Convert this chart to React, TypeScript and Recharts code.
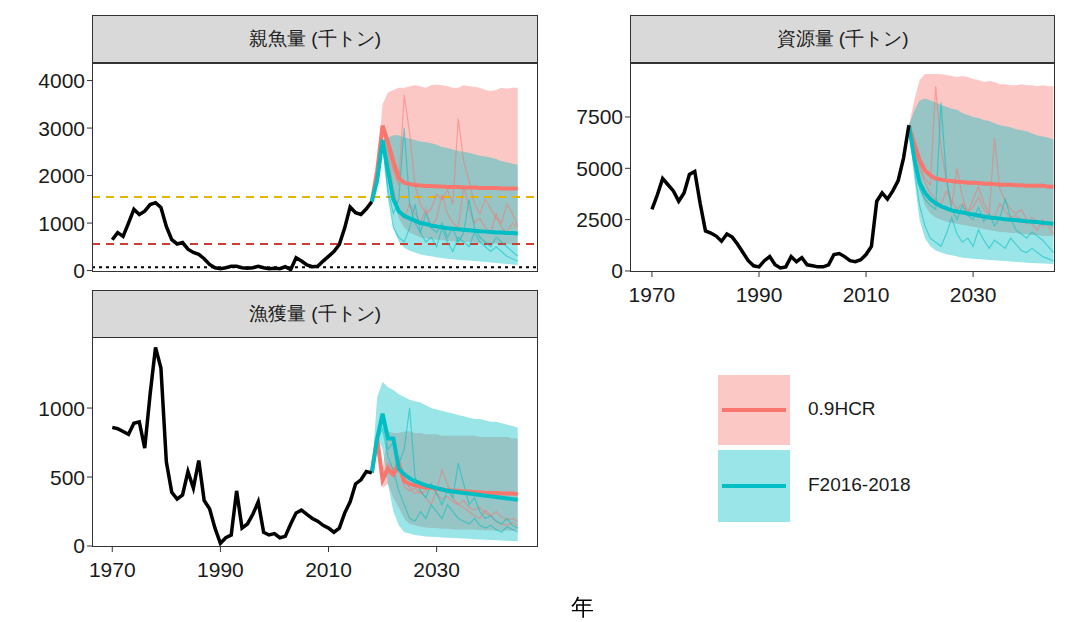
import { ComposedChart, Line, Area, XAxis, YAxis, ReferenceLine } from 'recharts';

const histYears = Array.from({ length: 49 }, (_, i) => 1970 + i);
const projYears = Array.from({ length: 28 }, (_, i) => 2018 + i);

// 親魚量
const ssbHist = [650, 800, 720, 1000, 1290, 1180, 1250, 1390, 1430, 1330, 930, 650, 560, 590, 450, 380, 340, 250, 130, 60, 40, 60, 90, 90, 60, 50, 60, 90, 60, 40, 50, 40, 80, 20, 270, 200, 120, 80, 90, 200, 300, 400, 550, 900, 1340, 1220, 1180, 1300, 1450];
const ssbTealMean = [1450, 1900, 2750, 2100, 1500, 1250, 1150, 1100, 1050, 1000, 980, 950, 930, 910, 890, 880, 870, 860, 850, 840, 830, 820, 810, 800, 800, 790, 790, 780];
const ssbRedMean = [1450, 2100, 3050, 2700, 2300, 1950, 1850, 1820, 1800, 1790, 1780, 1780, 1770, 1770, 1760, 1760, 1760, 1750, 1750, 1750, 1740, 1740, 1740, 1740, 1730, 1730, 1730, 1730];
const ssbRedHi = [1450, 2200, 3500, 3750, 3800, 3850, 3850, 3880, 3900, 3880, 3850, 3900, 3920, 3900, 3880, 3850, 3850, 3900, 3880, 3870, 3850, 3800, 3780, 3800, 3850, 3830, 3850, 3850];
const ssbRedLo = [1450, 2000, 2900, 2300, 1500, 1100, 900, 800, 750, 700, 680, 660, 650, 640, 630, 620, 610, 600, 600, 590, 580, 580, 570, 570, 560, 560, 550, 550];
const ssbTealHi = [1450, 2000, 2750, 2800, 2850, 2850, 2800, 2780, 2750, 2720, 2700, 2680, 2650, 2600, 2580, 2550, 2520, 2500, 2480, 2450, 2420, 2400, 2380, 2350, 2300, 2280, 2250, 2230];
const ssbTealLo = [1450, 1800, 2600, 1700, 900, 600, 480, 420, 380, 340, 320, 300, 280, 260, 250, 240, 230, 220, 210, 200, 190, 180, 170, 160, 150, 140, 130, 120];
const ssbRedThin1 = [1450, 2100, 3000, 2600, 2100, 1800, 3700, 2900, 1800, 1400, 1200, 1300, 1600, 1500, 1700, 1400, 3200, 2300, 1900, 1400, 1200, 1500, 1300, 1100, 1000, 1400, 1200, 950];
const ssbRedThin2 = [1450, 2050, 2950, 2500, 1700, 1300, 1100, 1400, 1200, 1000, 1300, 900, 1100, 1600, 1200, 1000, 900, 1800, 1300, 1000, 1100, 900, 800, 1200, 900, 800, 1000, 900];
const ssbTealThin1 = [1450, 1900, 2700, 1700, 1200, 1500, 3000, 1400, 1000, 800, 1200, 900, 800, 1000, 700, 900, 600, 800, 1500, 900, 700, 600, 500, 700, 600, 500, 400, 300];
const ssbTealThin2 = [1450, 1850, 2650, 1600, 900, 700, 600, 900, 1400, 800, 600, 700, 500, 900, 600, 400, 700, 600, 500, 800, 600, 500, 400, 500, 400, 300, 250, 200];

// 資源量
const bioHist = [3000, 3700, 4500, 4200, 3900, 3400, 3800, 4700, 4850, 3300, 1950, 1850, 1700, 1450, 1800, 1650, 1300, 900, 500, 250, 200, 500, 700, 300, 150, 200, 700, 450, 650, 300, 250, 200, 200, 300, 800, 850, 700, 500, 450, 550, 800, 1200, 3400, 3800, 3500, 3900, 4400, 5500, 7100];
const bioTealMean = [7100, 5500, 4300, 3800, 3500, 3300, 3150, 3050, 2950, 2900, 2850, 2800, 2750, 2700, 2650, 2600, 2580, 2550, 2520, 2500, 2480, 2450, 2420, 2400, 2380, 2350, 2330, 2300];
const bioRedMean = [7100, 6200, 5400, 4900, 4650, 4500, 4450, 4400, 4380, 4350, 4330, 4300, 4300, 4280, 4250, 4250, 4230, 4200, 4200, 4200, 4180, 4180, 4150, 4150, 4150, 4150, 4120, 4100];
const bioRedHi = [7100, 8300, 9300, 9600, 9600, 9600, 9580, 9550, 9500, 9450, 9500, 9450, 9350, 9300, 9200, 9250, 9200, 9100, 9100, 9050, 9050, 9100, 9050, 9050, 9000, 9050, 9000, 9000];
const bioRedLo = [7100, 5500, 4000, 3200, 2800, 2600, 2500, 2400, 2350, 2300, 2250, 2200, 2150, 2100, 2050, 2000, 1950, 1900, 1900, 1850, 1850, 1800, 1800, 1750, 1750, 1700, 1700, 1700];
const bioTealHi = [7100, 7800, 8300, 8400, 8300, 8200, 8100, 8000, 7900, 7850, 7700, 7600, 7500, 7450, 7350, 7300, 7200, 7100, 7050, 7000, 6900, 6850, 6800, 6700, 6600, 6550, 6500, 6400];
const bioTealLo = [7100, 4500, 2500, 1600, 1200, 1000, 900, 820, 760, 700, 650, 620, 600, 580, 560, 540, 520, 500, 480, 460, 440, 420, 400, 390, 380, 360, 350, 340];
const bioRedThin1 = [7100, 6000, 5200, 4500, 4200, 9000, 6000, 4400, 3200, 5000, 3600, 2800, 3500, 4100, 3300, 2800, 6500, 4000, 3400, 3000, 2800, 3000, 2500, 2300, 2000, 2500, 2200, 1800];
const bioRedThin2 = [7100, 6100, 5000, 4300, 3800, 3500, 3200, 3900, 3400, 3000, 3300, 2900, 3100, 3600, 3000, 2700, 2600, 3300, 2900, 2600, 2700, 2500, 2300, 2600, 2400, 2200, 2300, 2100];
const bioTealThin1 = [7100, 5300, 4000, 3500, 3200, 3000, 8200, 4500, 3000, 2500, 3200, 2700, 2500, 3100, 2400, 2800, 2200, 2600, 3500, 2600, 2000, 1800, 1600, 1900, 1700, 1500, 1200, 900];
const bioTealThin2 = [7100, 5000, 3200, 2200, 1600, 1400, 1200, 1800, 2600, 1800, 1400, 1600, 1200, 2000, 1500, 1100, 1500, 1300, 1100, 1600, 1300, 1000, 900, 1100, 900, 700, 600, 500];

// 漁獲量
const catchHist = [860, 850, 830, 810, 890, 900, 710, 1100, 1440, 1290, 610, 390, 340, 370, 540, 420, 620, 330, 270, 130, 20, 60, 80, 400, 130, 160, 230, 320, 100, 80, 90, 60, 70, 160, 240, 260, 230, 200, 180, 150, 130, 100, 130, 240, 320, 450, 480, 540, 530];
const catchTealMean = [530, 780, 960, 780, 780, 560, 520, 490, 470, 455, 440, 430, 420, 410, 400, 395, 390, 385, 380, 375, 370, 365, 360, 355, 350, 345, 340, 335];
const catchRedMean = [530, 780, 480, 560, 520, 590, 470, 450, 440, 430, 425, 420, 415, 410, 405, 400, 400, 395, 395, 390, 390, 385, 385, 385, 380, 380, 380, 375];
const catchTealHi = [530, 1080, 1190, 1150, 1130, 1100, 1080, 1060, 1050, 1040, 1020, 1000, 990, 980, 970, 960, 950, 940, 930, 920, 920, 910, 900, 900, 890, 880, 870, 860];
const catchTealLo = [530, 800, 700, 450, 250, 150, 100, 90, 80, 75, 70, 68, 65, 62, 60, 58, 56, 54, 52, 50, 48, 46, 44, 42, 40, 38, 36, 35];
const catchRedHi = [530, 780, 560, 830, 820, 820, 830, 830, 820, 820, 810, 810, 810, 800, 800, 800, 800, 800, 800, 800, 790, 790, 790, 790, 790, 790, 780, 780];
const catchRedLo = [530, 760, 420, 450, 350, 280, 200, 160, 150, 140, 135, 130, 130, 125, 125, 120, 120, 120, 120, 120, 115, 115, 115, 110, 110, 110, 110, 110];
const catchRedThin1 = [530, 780, 500, 600, 550, 650, 500, 420, 380, 400, 350, 300, 400, 550, 450, 350, 300, 280, 250, 220, 200, 260, 220, 180, 160, 150, 170, 150];
const catchRedThin2 = [530, 770, 460, 540, 500, 560, 430, 400, 420, 380, 400, 450, 380, 340, 360, 320, 300, 330, 280, 260, 280, 240, 220, 250, 210, 190, 200, 180];
const catchTealThin1 = [530, 780, 900, 700, 750, 600, 700, 1000, 500, 400, 350, 450, 380, 300, 400, 350, 600, 450, 300, 350, 250, 200, 220, 180, 160, 200, 150, 130];
const catchTealThin2 = [530, 760, 850, 650, 550, 400, 300, 200, 180, 250, 200, 300, 250, 200, 300, 250, 200, 180, 160, 200, 150, 130, 150, 120, 100, 140, 120, 100];

const xTicks = [1970, 1990, 2010, 2030];
const RED = '#F8766D';
const TEAL = '#00BFC4';
const FONT = '"Liberation Sans", Arial, sans-serif';

type Series = {
  hist: number[]; tealMean: number[]; redMean: number[];
  redHi: number[]; redLo: number[]; tealHi: number[]; tealLo: number[];
  thinRed: number[][]; thinTeal: number[][];
};

function buildRows(s: Series) {
  const rows: any[] = [];
  for (let y = 1970; y <= 2045; y++) {
    const r: any = { year: y };
    const hi = histYears.indexOf(y);
    if (hi >= 0) r.hist = s.hist[hi];
    const pi = projYears.indexOf(y);
    if (pi >= 0) {
      r.tealMean = s.tealMean[pi];
      r.redMean = s.redMean[pi];
      r.redBand = [s.redLo[pi], s.redHi[pi]];
      r.tealBand = [s.tealLo[pi], s.tealHi[pi]];
      s.thinRed.forEach((t, k) => (r['r' + k] = t[pi]));
      s.thinTeal.forEach((t, k) => (r['t' + k] = t[pi]));
    }
    rows.push(r);
  }
  return rows;
}

const tick = { fill: '#1a1a1a', fontSize: 21, fontFamily: FONT };

function Panel({ s, left, top, width, height, yAxisW, xDomain, yDomain, yTicks, showX, refs }: any) {
  const rows = buildRows(s);
  const plotW = width - yAxisW - 2;
  return (
    <div style={{ position: 'absolute', left, top }}>
      <ComposedChart width={width} height={height + 45} data={rows}
        margin={{ top: 0, right: 2, left: 0, bottom: showX ? 0 : 45 }}>
        <XAxis dataKey="year" type="number" domain={xDomain} ticks={xTicks} allowDataOverflow
          hide={!showX} height={45} tick={{ ...tick, dy: 8 }} tickLine={{ stroke: '#333' }} axisLine={false} tickSize={5} />
        <YAxis type="number" domain={yDomain} ticks={yTicks} allowDataOverflow width={yAxisW}
          tick={tick} tickLine={{ stroke: '#333' }} axisLine={false} tickSize={5} interval={0} />
        {refs}
        <Area dataKey="redBand" stroke="none" fill={RED} fillOpacity={0.4} isAnimationActive={false} type="linear" />
        <Area dataKey="tealBand" stroke="none" fill={TEAL} fillOpacity={0.4} isAnimationActive={false} type="linear" />
        {s.thinRed.map((_: any, k: number) => (
          <Line key={'r' + k} dataKey={'r' + k} stroke={RED} strokeOpacity={0.55} strokeWidth={1.2} dot={false} isAnimationActive={false} />
        ))}
        {s.thinTeal.map((_: any, k: number) => (
          <Line key={'t' + k} dataKey={'t' + k} stroke={TEAL} strokeOpacity={0.55} strokeWidth={1.2} dot={false} isAnimationActive={false} />
        ))}
        <Line dataKey="redMean" stroke={RED} strokeWidth={4} dot={false} isAnimationActive={false} />
        <Line dataKey="tealMean" stroke={TEAL} strokeWidth={4} dot={false} isAnimationActive={false} />
        <Line dataKey="hist" stroke="#000" strokeWidth={3.5} dot={false} isAnimationActive={false} />
      </ComposedChart>
      <div style={{ position: 'absolute', left: yAxisW, top: 0, width: plotW, height, border: '1px solid #333', boxSizing: 'border-box', pointerEvents: 'none' }} />
    </div>
  );
}

function Strip({ left, top, width, label }: any) {
  return (
    <div style={{ position: 'absolute', left, top, width, height: 48, background: '#d9d9d9', border: '1px solid #333', boxSizing: 'border-box', display: 'flex', alignItems: 'center', justifyContent: 'center', fontSize: 19, fontFamily: FONT, color: '#1a1a1a' }}>
      {label}
    </div>
  );
}

export default function App() {
  const ssb: Series = { hist: ssbHist, tealMean: ssbTealMean, redMean: ssbRedMean, redHi: ssbRedHi, redLo: ssbRedLo, tealHi: ssbTealHi, tealLo: ssbTealLo, thinRed: [ssbRedThin1, ssbRedThin2], thinTeal: [ssbTealThin1, ssbTealThin2] };
  const bio: Series = { hist: bioHist, tealMean: bioTealMean, redMean: bioRedMean, redHi: bioRedHi, redLo: bioRedLo, tealHi: bioTealHi, tealLo: bioTealLo, thinRed: [bioRedThin1, bioRedThin2], thinTeal: [bioTealThin1, bioTealThin2] };
  const cat: Series = { hist: catchHist, tealMean: catchTealMean, redMean: catchRedMean, redHi: catchRedHi, redLo: catchRedLo, tealHi: catchTealHi, tealLo: catchTealLo, thinRed: [catchRedThin1, catchRedThin2], thinTeal: [catchTealThin1, catchTealThin2] };

  const refs = [
    <ReferenceLine key="a" y={1550} stroke="#E6B400" strokeWidth={2} strokeDasharray="8 6" />,
    <ReferenceLine key="b" y={560} stroke="#CC3D33" strokeWidth={2} strokeDasharray="8 6" />,
    <ReferenceLine key="c" y={70} stroke="#000" strokeWidth={2} strokeDasharray="3 4" />,
  ];

  return (
    <div style={{ position: 'fixed', left: 0, top: 0, width: 1065, height: 622, background: '#fff', fontFamily: FONT }}>
      <Strip left={92} top={15} width={446} label="親魚量 (千トン)" />
      <Strip left={630} top={15} width={425} label="資源量 (千トン)" />
      <Strip left={92} top={290} width={446} label="漁獲量 (千トン)" />
      <Panel s={ssb} left={0} top={63} width={540} height={209} yAxisW={92}
        xDomain={[1966.25, 2048.75]} yDomain={[-30, 4370]} yTicks={[0, 1000, 2000, 3000, 4000]} showX={false} refs={refs} />
      <Panel s={bio} left={540} top={63} width={517} height={209} yAxisW={90}
        xDomain={[1965.9, 2045.3]} yDomain={[-50, 10130]} yTicks={[0, 2500, 5000, 7500]} showX={true} />
      <Panel s={cat} left={0} top={337} width={540} height={210} yAxisW={92}
        xDomain={[1966.25, 2048.75]} yDomain={[-7, 1515]} yTicks={[0, 500, 1000]} showX={true} />
      <div style={{ position: 'absolute', left: 718, top: 375, width: 72, height: 70, background: RED, opacity: 0.4 }} />
      <div style={{ position: 'absolute', left: 722, top: 408, width: 64, height: 4, background: RED }} />
      <div style={{ position: 'absolute', left: 718, top: 450, width: 72, height: 72, background: TEAL, opacity: 0.4 }} />
      <div style={{ position: 'absolute', left: 722, top: 484, width: 64, height: 4, background: TEAL }} />
      <div style={{ position: 'absolute', left: 808, top: 398, fontSize: 19, color: '#1a1a1a' }}>0.9HCR</div>
      <div style={{ position: 'absolute', left: 808, top: 474, fontSize: 19, color: '#1a1a1a' }}>F2016-2018</div>
      <div style={{ position: 'absolute', left: 571, top: 592, fontSize: 23, color: '#000' }}>年</div>
    </div>
  );
}
